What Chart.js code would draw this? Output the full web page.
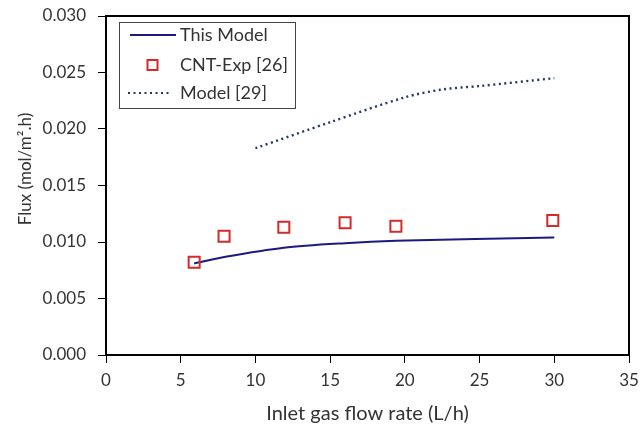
<!DOCTYPE html>
<html>
<head>
<meta charset="utf-8">
<script src="https://cdn.jsdelivr.net/npm/chart.js@4.4.1/dist/chart.umd.min.js"></script>
<style>
  html, body { margin: 0; padding: 0; background: #fff; }
  #wrap { width: 640px; height: 428px; position: relative; }
</style>
</head>
<body>
<div id="wrap"><canvas id="fluxChart"></canvas></div>
<script>
// Flux vs inlet gas flow rate

const modelX = [5.9, 8, 11.9, 16, 19.4, 30];
const modelY = [0.0081, 0.0087, 0.0095, 0.0099, 0.0101, 0.0104];

const expX = [5.9, 7.9, 11.9, 16, 19.4, 29.9];
const expY = [0.0082, 0.0105, 0.0113, 0.0117, 0.0114, 0.0119];

const lit29X = [10, 15, 20, 22.5, 25, 30];
const lit29Y = [0.0183, 0.0206, 0.0228, 0.0235, 0.0238, 0.0245];

const seriesNames = ['This Model', 'CNT-Exp [26]', 'Model [29]'];

const xTitle = 'Inlet gas flow rate (L/h)';
const yTitle = 'Flux (mol/m\u00b2.h)';

const FONT = 'Lato, "Open Sans", sans-serif';
const TEXT = '#333';

function pairs(xs, ys) {
    return xs.map((x, i) => ({ x, y: ys[i] }));
}

// label overflow would push the plot area in, drop it
function noOverflow(scale) {
    scale.paddingTop = 0;
    scale.paddingBottom = 0;
    scale.paddingLeft = 0;
    scale.paddingRight = 0;
}

// box round the plot area, y title, legend inside the plot
const framePlugin = {
    id: 'frame',
    afterDraw(chart) {
        const { ctx, chartArea: a } = chart;
        ctx.save();
        ctx.strokeStyle = '#000';
        ctx.lineWidth = 2;
        ctx.strokeRect(a.left, a.top, a.right - a.left, a.bottom - a.top);

        // y axis title
        ctx.save();
        ctx.translate(26, 169);
        ctx.rotate(-Math.PI / 2);
        ctx.font = '17px ' + FONT;
        ctx.fillStyle = TEXT;
        ctx.textAlign = 'center';
        ctx.textBaseline = 'middle';
        ctx.fillText(yTitle, 0, 0);
        ctx.restore();

        // legend
        const bx = 119, by = 22, bw = 176, bh = 86;
        ctx.fillStyle = '#fff';
        ctx.fillRect(bx, by, bw, bh);
        ctx.lineWidth = 1;
        ctx.strokeStyle = '#444';
        ctx.strokeRect(bx + 0.5, by + 0.5, bw, bh);

        ctx.font = '18px ' + FONT;
        ctx.fillStyle = TEXT;
        ctx.textBaseline = 'middle';
        const rows = [35, 65, 93];
        rows.forEach((ry, i) => ctx.fillText(seriesNames[i], 180, ry));

        ctx.strokeStyle = '#1a1a80';
        ctx.lineWidth = 2;
        ctx.beginPath();
        ctx.moveTo(130, rows[0]);
        ctx.lineTo(176, rows[0]);
        ctx.stroke();

        ctx.strokeStyle = '#d42a2a';
        ctx.strokeRect(147.5, rows[1] - 5, 10, 10);

        ctx.strokeStyle = '#1f3864';
        ctx.lineWidth = 2.2;
        ctx.setLineDash([2, 3.5]);
        ctx.beginPath();
        ctx.moveTo(128, rows[2]);
        ctx.lineTo(172, rows[2]);
        ctx.stroke();
        ctx.restore();
    }
};

new Chart(document.getElementById('fluxChart'), {
    type: 'scatter',
    data: {
        datasets: [
            {
                label: seriesNames[0],
                data: pairs(modelX, modelY),
                showLine: true,
                borderColor: '#1a1a80',
                borderWidth: 2,
                pointRadius: 0,
                tension: 0.3,
                order: 2
            },
            {
                label: seriesNames[1],
                data: pairs(expX, expY),
                showLine: false,
                pointStyle: 'rect',
                pointRadius: 7.8,
                pointBorderWidth: 2,
                pointBorderColor: '#d42a2a',
                pointBackgroundColor: 'rgba(255,255,255,0)',
                order: 1
            },
            {
                label: seriesNames[2],
                data: pairs(lit29X, lit29Y),
                showLine: true,
                borderColor: '#1f3864',
                borderWidth: 2.4,
                borderDash: [2, 3.5],
                pointRadius: 0,
                tension: 0.3,
                order: 3
            }
        ]
    },
    options: {
        responsive: true,
        maintainAspectRatio: false,
        animation: false,
        layout: { padding: { top: 16, right: 11, left: 0, bottom: 0 } },
        plugins: {
            legend: { display: false },
            tooltip: { enabled: false }
        },
        scales: {
            x: {
                type: 'linear',
                min: 0,
                max: 35,
                ticks: {
                    stepSize: 5,
                    color: TEXT,
                    font: { family: FONT, size: 17 },
                    padding: 7
                },
                grid: { drawOnChartArea: false, tickLength: 8, color: '#000', tickWidth: 1 },
                border: { color: '#000', width: 2 },
                title: {
                    display: true,
                    text: xTitle,
                    color: TEXT,
                    font: { family: FONT, size: 20 },
                    padding: { top: 4, bottom: 2 }
                },
                afterFit(scale) {
                    scale.height = 73;
                    noOverflow(scale);
                }
            },
            y: {
                min: 0,
                max: 0.03,
                ticks: {
                    stepSize: 0.005,
                    color: TEXT,
                    font: { family: FONT, size: 17 },
                    padding: 12,
                    callback: v => v.toFixed(3)
                },
                grid: { drawOnChartArea: false, tickLength: 8, color: '#000', tickWidth: 1 },
                border: { color: '#000', width: 2 },
                afterFit(scale) {
                    scale.width = 106;
                    noOverflow(scale);
                }
            }
        }
    },
    plugins: [framePlugin]
});
</script>
</body>
</html>
